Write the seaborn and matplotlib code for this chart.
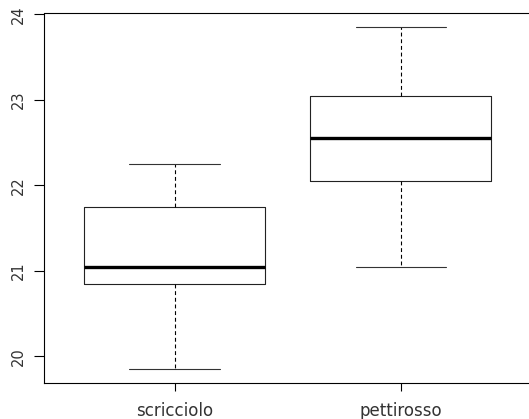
import matplotlib
matplotlib.use("Agg")
import matplotlib.pyplot as plt
import seaborn as sns
import pandas as pd

categories = ["scricciolo", "pettirosso"]
scricciolo = [19.85, 20.85, 21.05, 21.75, 22.25]
pettirosso = [21.05, 22.05, 22.55, 23.05, 23.85]
yticks = [20, 21, 22, 23, 24]

df = pd.DataFrame({
    "specie": [categories[0]] * len(scricciolo) + [categories[1]] * len(pettirosso),
    "valore": scricciolo + pettirosso,
})

sns.set_style("white")
plt.rcParams["font.family"] = ["DejaVu Sans"]

fig = plt.figure(figsize=(5.29, 4.19), dpi=100)
ax = fig.add_axes([43.5 / 529, 36 / 419, (532 - 43.5) / 529, (383 - 13.5) / 419])

sns.boxplot(
    data=df, x="specie", y="valore", order=categories, ax=ax,
    width=0.8, whis=1.5, fill=False, color="black", linewidth=0.8,
    medianprops=dict(color="black", linewidth=2.4),
    whiskerprops=dict(color="black", linestyle=(0, (3.5, 2.5)), linewidth=0.8),
    capprops=dict(color="#333333", linewidth=0.8),
    boxprops=dict(color="#222222", linewidth=0.8),
)

ax.set_xlim(-0.58, 1.58)
ax.set_ylim(19.69, 24.01)
ax.set_yticks(yticks)
ax.set_yticklabels([str(v) for v in yticks], rotation=90, va="center")
ax.set_xlabel("")
ax.set_ylabel("")
for s in ax.spines.values():
    s.set_color("black")
    s.set_linewidth(0.8)
ax.tick_params(axis="both", which="both", direction="out", width=0.8,
               colors="black", labelcolor="#333333")
ax.tick_params(axis="y", length=7, pad=6, labelsize=10.5)
ax.tick_params(axis="x", length=5.5, pad=8, labelsize=12)
ax.yaxis.set_ticks_position("left")
ax.xaxis.set_ticks_position("bottom")

fig.savefig("out.png", dpi=100)
